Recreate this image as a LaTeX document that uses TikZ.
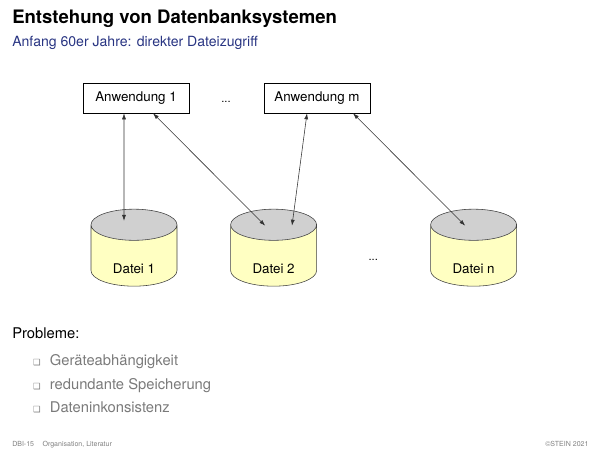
\documentclass[tikz,border=0pt]{standalone}
\usepackage{fontspec}
\setmainfont{TeX Gyre Heros}
\newfontfamily\symfont{DejaVu Sans}
\usepackage{xcolor}
\usetikzlibrary{arrows.meta, positioning, shapes.geometric}

\definecolor{titleblue}{RGB}{40,52,130}
\definecolor{dbtop}{RGB}{208,208,208}
\definecolor{dbbody}{RGB}{255,255,194}
\definecolor{itemgray}{RGB}{122,122,122}

\newcommand{\itembox}{\makebox[0.42cm][l]{\symfont\fontsize{6}{6}\selectfont ❑}}
\newcommand{\dblabel}[1]{\raisebox{-0.45cm}[0pt][0pt]{#1}}

\begin{document}
\begin{tikzpicture}[
  app/.style={
    draw,
    thin,
    minimum width=2.65cm,
    minimum height=0.75cm,
    inner sep=0pt,
    font=\fontsize{9.5}{11}\selectfont
  },
  db/.style={
    cylinder,
    shape border rotate=90,
    aspect=0.74,
    draw=black!75,
    thin,
    cylinder uses custom fill,
    cylinder end fill=dbtop,
    cylinder body fill=dbbody,
    minimum width=2.15cm,
    minimum height=1.925cm,
    inner sep=0pt,
    font=\fontsize{9.5}{11}\selectfont
  },
  arr/.style={
    {Latex[length=1.5mm,width=1mm]}-{Latex[length=1.5mm,width=1mm]},
    black!80,
    thin
  },
  dots/.style={inner sep=0pt, font=\fontsize{8}{9}\selectfont},
  txt/.style={anchor=base west, inner sep=0pt},
  item/.style={txt, text=itemgray, font=\fontsize{10.5}{12}\selectfont},
  foot/.style={anchor=base, inner sep=0pt, text=gray, font=\fontsize{5}{6}\selectfont}
]
\useasboundingbox (0,0) rectangle (15,-11.25);

% Heading
\node [txt, font=\fontsize{13.2}{15}\selectfont\bfseries] (title) at (0.3,-0.58) {Entstehung von Datenbanksystemen};
\node [txt, text=titleblue, font=\fontsize{10}{12}\selectfont] (subtitle) at (0.3,-1.15) {Anfang 60er Jahre: direkter Dateizugriff};

% Applications
\node [app] (a1) at (3.4,-2.45) {Anwendung 1};
\node [app] (am) at (7.925,-2.45) {Anwendung m};
\node [dots, anchor=base] (adots) at (5.65,-2.55) {...};

% Files
\node [db] (d1) at (3.35,-6.39) {\dblabel{Datei 1}};
\node [db] (d2) at (6.84,-6.39) {\dblabel{Datei 2}};
\node [db] (dn) at (11.84,-6.39) {\dblabel{Datei n}};
\node [dots, anchor=base] (ddots) at (9.33,-6.52) {...};

% Access
\draw [arr] ([xshift=-0.3cm]a1.south) -- ([xshift=-0.25cm,yshift=-0.3cm]d1.top);
\draw [arr] ([xshift=0.425cm]a1.south) -- ([xshift=-0.21cm,yshift=-0.42cm]d2.top);
\draw [arr] ([xshift=-0.25cm]am.south) -- ([xshift=0.46cm,yshift=-0.42cm]d2.top);
\draw [arr] ([xshift=0.9cm]am.south) -- ([xshift=-0.21cm,yshift=-0.42cm]dn.top);

% Problems
\node [txt, font=\fontsize{10.5}{12}\selectfont] (probs) at (0.3,-8.45) {Probleme:};
\node [item] (p1) at (0.82,-9.13) {\itembox Geräteabhängigkeit};
\node [item] (p2) at (0.82,-9.73) {\itembox redundante Speicherung};
\node [item] (p3) at (0.82,-10.3) {\itembox Dateninkonsistenz};

% Footer
\node [foot, anchor=base west] (fl) at (0.3,-11.15) {DBI-15\hspace{1.2em}Organisation, Literatur};
\node [foot, anchor=base east] (fr) at (14.72,-11.15) {©STEIN 2021};

\end{tikzpicture}
\end{document}
